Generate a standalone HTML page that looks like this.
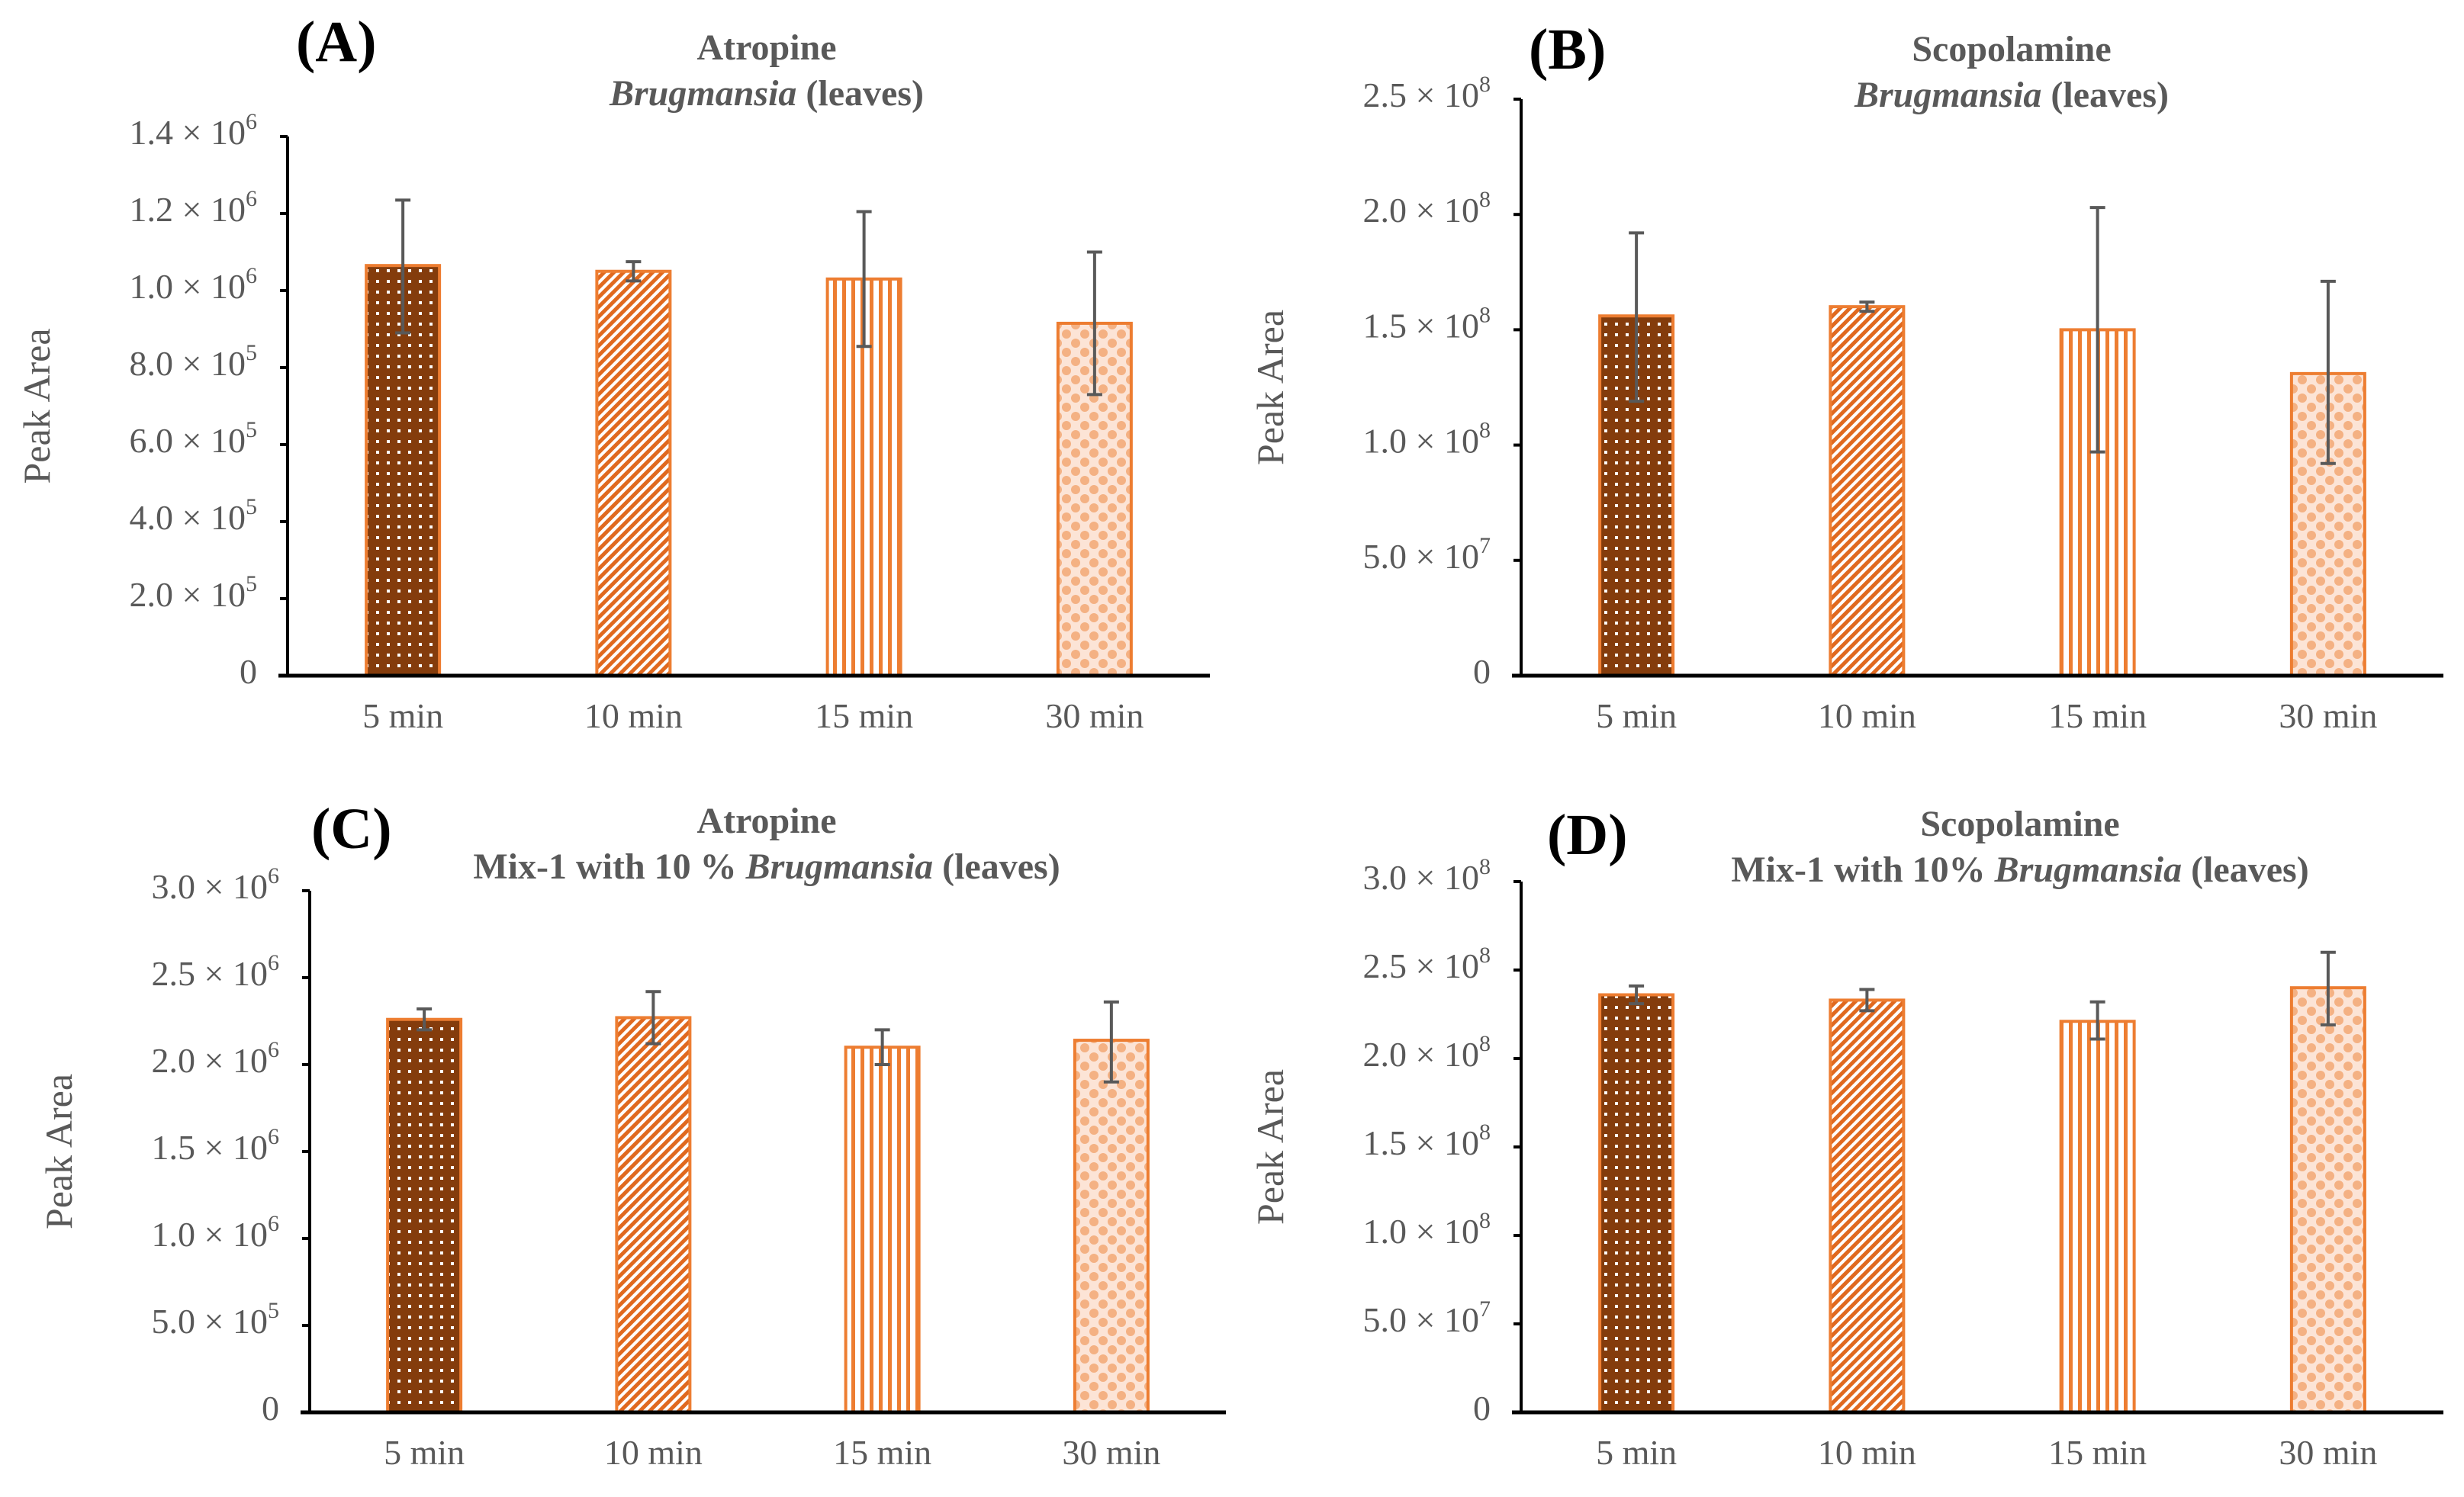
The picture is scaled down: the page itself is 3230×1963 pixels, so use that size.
<!DOCTYPE html>
<html><head><meta charset="utf-8">
<style>
html,body{margin:0;padding:0;background:#fff;}
svg{display:block;font-family:"Liberation Serif",serif;}
</style></head>
<body>
<svg id="fig" width="3230" height="1963" viewBox="0 0 3230 1963" xmlns="http://www.w3.org/2000/svg">
<defs>
<pattern id="pDots" width="14" height="14" patternUnits="userSpaceOnUse">
<rect width="14" height="14" fill="#843c0c"/><rect x="3" y="3" width="4" height="4" fill="#fff"/>
</pattern>
<pattern id="pDiag" width="9" height="9" patternUnits="userSpaceOnUse" patternTransform="rotate(45)">
<rect width="9" height="9" fill="#fff"/><rect width="5" height="9" fill="#e0691f"/>
</pattern>
<pattern id="pVert" width="12" height="12" patternUnits="userSpaceOnUse">
<rect width="12" height="12" fill="#fff"/><rect width="5" height="12" fill="#ed7d31"/>
</pattern>
<pattern id="pCirc" width="24" height="24" patternUnits="userSpaceOnUse">
<rect width="24" height="24" fill="#fce4d6"/><circle cx="6" cy="6" r="6" fill="#f4b183"/><circle cx="18" cy="18" r="6" fill="#f4b183"/>
</pattern>
</defs>
</svg>
<script>
const categories = ["5 min","10 min","15 min","30 min"];
const valuesA = [1.065e6, 1.05e6, 1.03e6, 0.915e6];
const errHiA = [1.235e6, 1.075e6, 1.205e6, 1.10e6];
const errLoA = [0.89e6, 1.025e6, 0.855e6, 0.73e6];
const ticksA = [0,2e5,4e5,6e5,8e5,1e6,1.2e6,1.4e6];
const tickLabelsA = [["0",""],["2.0 × 10","5"],["4.0 × 10","5"],["6.0 × 10","5"],["8.0 × 10","5"],["1.0 × 10","6"],["1.2 × 10","6"],["1.4 × 10","6"]];
const valuesB = [1.56e8, 1.60e8, 1.50e8, 1.31e8];
const errHiB = [1.92e8, 1.62e8, 2.03e8, 1.71e8];
const errLoB = [1.19e8, 1.58e8, 0.97e8, 0.92e8];
const ticksB = [0,5e7,1e8,1.5e8,2e8,2.5e8];
const tickLabelsB = [["0",""],["5.0 × 10","7"],["1.0 × 10","8"],["1.5 × 10","8"],["2.0 × 10","8"],["2.5 × 10","8"]];
const valuesC = [2.26e6, 2.27e6, 2.10e6, 2.14e6];
const errHiC = [2.32e6, 2.42e6, 2.20e6, 2.36e6];
const errLoC = [2.20e6, 2.12e6, 2.00e6, 1.90e6];
const ticksC = [0,5e5,1e6,1.5e6,2e6,2.5e6,3e6];
const tickLabelsC = [["0",""],["5.0 × 10","5"],["1.0 × 10","6"],["1.5 × 10","6"],["2.0 × 10","6"],["2.5 × 10","6"],["3.0 × 10","6"]];
const valuesD = [2.36e8, 2.33e8, 2.21e8, 2.40e8];
const errHiD = [2.41e8, 2.39e8, 2.32e8, 2.60e8];
const errLoD = [2.31e8, 2.27e8, 2.11e8, 2.19e8];
const ticksD = [0,5e7,1e8,1.5e8,2e8,2.5e8,3e8];
const tickLabelsD = [["0",""],["5.0 × 10","7"],["1.0 × 10","8"],["1.5 × 10","8"],["2.0 × 10","8"],["2.5 × 10","8"],["3.0 × 10","8"]];

const NS="http://www.w3.org/2000/svg";
const svg=document.getElementById('fig');
const fills=["url(#pDots)","url(#pDiag)","url(#pVert)","url(#pCirc)"];
function mk(tag,attrs,parent,text){const e=document.createElementNS(NS,tag);for(const k in attrs)e.setAttribute(k,attrs[k]);if(text!==undefined)e.textContent=text;(parent||svg).appendChild(e);return e;}

function panel(p){
  const g=mk('g',{});
  
  
  const yMax=p.ticks[p.ticks.length-1];
  const y=v=>p.y0-(v/yMax)*(p.y0-p.yTop);
  const band=(p.x1-p.x0)/categories.length;
  const x=i=>p.x0+band*(i+0.5);
  const L=mk('text',{x:p.lx,y:p.ly,'font-size':76,'font-weight':'bold',fill:'#000'},g,'('+p.id+')');
  
  const t=mk('text',{x:p.tx,y:p.ty,'font-size':48,'font-weight':'bold',fill:'#595959','text-anchor':'middle'},g,p.title1);
  
  const t2=mk('text',{x:p.tx,y:p.ty+60,'font-size':48,'font-weight':'bold',fill:'#595959','text-anchor':'middle'},g);
  
  if(p.pre){mk('tspan',{},t2,p.pre);}
  mk('tspan',{'font-style':'italic'},t2,'Brugmansia');
  mk('tspan',{},t2,' (leaves)');
  const yt=mk('text',{x:0,y:0,'font-size':50,fill:'#595959','text-anchor':'middle',transform:`translate(${p.x0-312},${(p.y0+p.yTop)/2}) rotate(-90)`},g,'Peak Area');
  
  p.values.forEach((v,i)=>{
    const bw=96;
    const r=mk('rect',{x:x(i)-bw/2,y:y(v),width:bw,height:p.y0-y(v),fill:fills[i],stroke:'#ed7d31','stroke-width':4},g);
    
    
    const eg=mk('g',{stroke:'#595959','stroke-width':4},g);
    
    
    mk('line',{x1:x(i),x2:x(i),y1:y(p.hi[i]),y2:y(p.lo[i])},eg);
    mk('line',{x1:x(i)-10,x2:x(i)+10,y1:y(p.hi[i]),y2:y(p.hi[i])},eg);
    mk('line',{x1:x(i)-10,x2:x(i)+10,y1:y(p.lo[i]),y2:y(p.lo[i])},eg);
    const xl=mk('text',{x:x(i),y:p.y0+68,'font-size':46,fill:'#595959','text-anchor':'middle'},g,categories[i]);
    
  });
  const ya=mk('line',{x1:p.x0,x2:p.x0,y1:p.yTop,y2:p.y0,stroke:'#000','stroke-width':4},g);
  
  const xa=mk('line',{x1:p.x0-12,x2:p.x1,y1:p.y0,y2:p.y0,stroke:'#000','stroke-width':5},g);
  
  p.ticks.forEach((tv,i)=>{
    mk('line',{x1:p.x0-10,x2:p.x0,y1:y(tv),y2:y(tv),stroke:'#000','stroke-width':4},g);
    const tl=mk('text',{x:p.x0-40,y:y(tv)+10,'font-size':46,fill:'#595959','text-anchor':'end'},g);
    
    mk('tspan',{},tl,p.labels[i][0]);
    if(p.labels[i][1])mk('tspan',{'font-size':30,dy:-20},tl,p.labels[i][1]);
  });
}
panel({id:'A',lx:388,ly:80,tx:1005,ty:78,title1:'Atropine',pre:'',x0:377,x1:1586,yTop:179,y0:886,ticks:ticksA,labels:tickLabelsA,values:valuesA,hi:errHiA,lo:errLoA});
panel({id:'B',lx:2004,ly:90,tx:2637,ty:80,title1:'Scopolamine',pre:'',x0:1994,x1:3203,yTop:130,y0:886,ticks:ticksB,labels:tickLabelsB,values:valuesB,hi:errHiB,lo:errLoB});
panel({id:'C',lx:408,ly:1112,tx:1005,ty:1092,title1:'Atropine',pre:'Mix-1 with 10 % ',x0:406,x1:1607,yTop:1168,y0:1852,ticks:ticksC,labels:tickLabelsC,values:valuesC,hi:errHiC,lo:errLoC});
panel({id:'D',lx:2028,ly:1120,tx:2648,ty:1096,title1:'Scopolamine',pre:'Mix-1 with 10% ',x0:1994,x1:3203,yTop:1156,y0:1852,ticks:ticksD,labels:tickLabelsD,values:valuesD,hi:errHiD,lo:errLoD});
</script>
</body></html>
